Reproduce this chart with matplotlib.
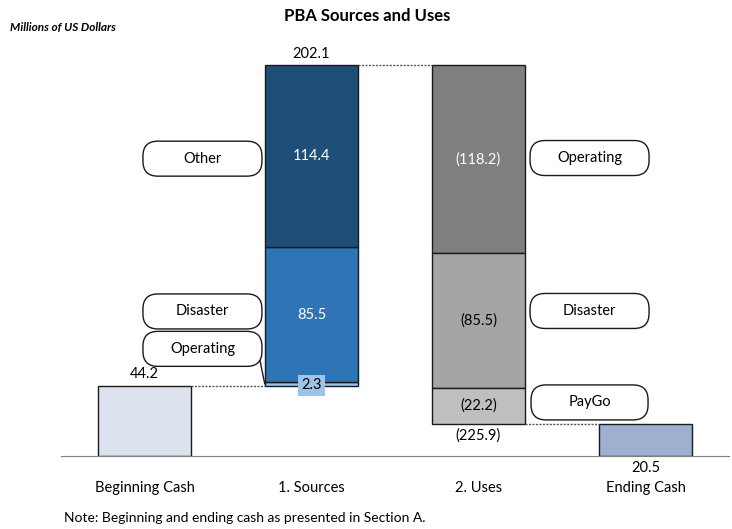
import matplotlib.pyplot as plt
from matplotlib.patches import FancyBboxPatch
from matplotlib.transforms import IdentityTransform

plt.rcParams['font.family'] = ['Lato', 'DejaVu Sans']

categories = ["Beginning Cash", "1. Sources", "2. Uses", "Ending Cash"]
beginning_cash = 44.2
ending_cash = 20.5
source_names = ["Operating", "Disaster", "Other"]          # bottom to top
source_values = [2.3, 85.5, 114.4]
use_names = ["Operating", "Disaster", "PayGo"]             # top to bottom
use_values = [118.2, 85.5, 22.2]
sources_total_label = "202.1"
uses_total_label = "(225.9)"

SRC_COLORS = ["#9dc3e6", "#2e75b6", "#1f4e79"]
USE_COLORS = ["#7f7f7f", "#a5a5a5", "#bfbfbf"]
W = 0.557
EDGE = "#1a1a1a"

fig = plt.figure(figsize=(7.32, 5.29), dpi=100)
ax = fig.add_axes([61/732, 0.138, 668/732, 0.779])
ax.set_xlim(-0.5, 3.5)
ax.set_ylim(0, 260)

# beginning cash
ax.bar(0, beginning_cash, width=W, color="#dce3ee", edgecolor=EDGE, lw=1)
ax.text(0, beginning_cash + 3, f"{beginning_cash:.1f}", ha="center", va="bottom", fontsize=10.5)

# sources stacked on top of beginning cash
bottom = beginning_cash
for name, v, c in zip(source_names, source_values, SRC_COLORS):
    ax.bar(1, v, bottom=bottom, width=W, color=c, edgecolor=EDGE, lw=1)
    mid = bottom + v / 2
    if v < 10:
        ax.text(1, mid - 0.8, f"{v:.1f}", ha="center", va="center", fontsize=10.5,
                bbox=dict(facecolor=c, edgecolor="none", pad=2.5))
    else:
        ax.text(1, mid, f"{v:.1f}", ha="center", va="center", fontsize=10.5, color="white")
    bottom += v
top = bottom
ax.text(1, top + 3, sources_total_label, ha="center", va="bottom", fontsize=10.5)

# uses hanging down from the top
level = top
for name, v, c in zip(use_names, use_values, USE_COLORS):
    ax.bar(2, -v, bottom=level, width=W, color=c, edgecolor=EDGE, lw=1)
    col = "white" if c == USE_COLORS[0] else "black"
    ax.text(2, level - v / 2, f"({v:.1f})", ha="center", va="center", fontsize=10.5, color=col)
    level -= v
ax.text(2, level - 3, uses_total_label, ha="center", va="top", fontsize=10.5)

# ending cash
ax.bar(3, ending_cash, width=W, color="#9eb0d0", edgecolor=EDGE, lw=1)
ax.text(3, -3, f"{ending_cash:.1f}", ha="center", va="top", fontsize=10.5)

# dotted connectors
conn = dict(color="#555555", lw=1, ls=(0, (1.5, 1)))
ax.plot([0 + W/2, 1 - W/2], [beginning_cash, beginning_cash], **conn)
ax.plot([1 + W/2, 2 - W/2], [top, top], **conn)
ax.plot([2 + W/2, 3 - W/2], [level, level], **conn)

# callout bubbles, drawn in pixels so the corners stay round
def bubble(x, y, text, wpx=119, hpx=35):
    px, py = ax.transData.transform((x, y))
    ax.add_artist(FancyBboxPatch((px - wpx/2, py - hpx/2), wpx, hpx,
                                 boxstyle="round,pad=0,rounding_size=15",
                                 transform=IdentityTransform(), facecolor="white",
                                 edgecolor=EDGE, lw=1, zorder=3))
    ax.text(x, y, text, ha="center", va="center", fontsize=10.5, zorder=4)

bubble(0.347, 187.6, "Other")
bubble(0.347, 91.2, "Disaster")
bubble(0.347, 67.6, "Operating")
ax.plot([0.69, 0.72], [61, 45.6], color=EDGE, lw=1)
bubble(2.665, 188.0, "Operating")
bubble(2.665, 91.5, "Disaster")
bubble(2.665, 33.8, "PayGo", wpx=117)

for s in ["top", "right", "left"]:
    ax.spines[s].set_visible(False)
ax.spines["bottom"].set_color("#7f7f7f")
ax.set_yticks([])
ax.set_xticks(range(len(categories)))
ax.set_xticklabels(categories, fontsize=10.5)
ax.tick_params(axis="x", length=0, pad=18)

fig.text(367/732, 1 - 16/529, "PBA Sources and Uses", ha="center", va="center",
         fontsize=12, fontweight="bold")
fig.text(10/732, 1 - 27/529, "Millions of US Dollars", ha="left", va="center",
         fontsize=8.5, fontweight="bold", style="italic")
fig.text(64/732, 1 - 518/529, "Note: Beginning and ending cash as presented in Section A.",
         ha="left", va="center", fontsize=10)

fig.savefig("out.png", dpi=100)
